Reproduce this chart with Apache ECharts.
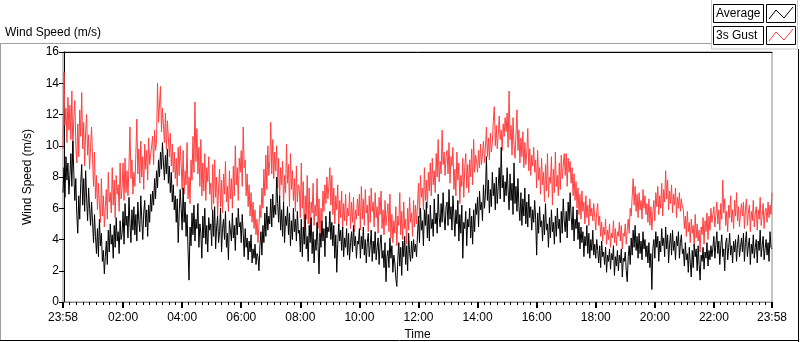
<!DOCTYPE html>
<html>
<head>
    <meta charset="utf-8" />
    <title>Wind Speed</title>
    <script src="https://cdn.jsdelivr.net/npm/echarts@6.0.0/dist/echarts.min.js"></script>
    <style>
        html, body { margin: 0; padding: 0; background: #fff; }
        #chart { width: 800px; height: 342px; }
    </style>
</head>
<body>
<div id="chart"></div>
<script type="text/javascript">
    // first sample at 23:58 of the day before (minutes from 00:00), one sample every 2 min,
    // one row per hour of the record
    var startMinute = -2;
    var stepMinute = 2;

    // Average wind speed (m/s)
    var averageByHour = [
        [7.0, 8.6, 6.7, 9.3, 7.8, 8.9, 6.9, 8.1, 9.5, 7.4, 10.3, 8.2, 6.5, 7.9, 5.6, 4.4, 6.8, 5.3, 7.6, 8.8, 6.2, 7.9, 5.8, 8.4, 6.6, 5.2, 7.3, 6.0, 4.9, 6.4],
        [5.1, 3.8, 5.6, 4.2, 3.1, 4.7, 2.9, 5.3, 3.6, 4.4, 2.6, 3.3, 1.8, 2.9, 3.9, 2.4, 4.6, 3.2, 5.0, 3.7, 4.3, 2.8, 4.9, 3.5, 5.4, 3.9, 4.5, 3.1, 5.2, 4.0],
        [4.4, 5.8, 3.7, 6.3, 4.9, 5.5, 4.1, 6.7, 5.0, 3.8, 5.9, 4.6, 6.1, 4.3, 5.6, 3.9, 6.4, 5.2, 4.5, 6.8, 5.3, 4.0, 5.7, 6.5, 4.8, 5.9, 4.2, 6.2, 5.1, 6.9],
        [5.8, 7.1, 6.2, 7.9, 6.6, 8.4, 7.3, 9.1, 8.0, 9.6, 8.5, 10.2, 8.9, 7.8, 9.4, 8.2, 9.8, 7.6, 8.7, 7.0, 8.3, 6.4, 7.5, 5.9, 6.8, 5.1, 6.6, 3.8, 5.7, 7.2],
        [6.0, 4.6, 7.3, 5.1, 6.4, 4.2, 5.6, 3.3, 1.4, 4.8, 3.6, 5.7, 4.3, 6.2, 3.9, 5.3, 4.7, 6.3, 3.5, 5.0, 4.4, 2.8, 5.5, 4.1, 6.0, 3.7, 4.9, 3.2, 5.4, 4.6],
        [5.0, 3.6, 5.9, 4.2, 6.1, 3.4, 4.8, 5.5, 3.8, 4.5, 6.0, 3.2, 4.7, 5.3, 4.0, 5.8, 3.5, 4.4, 2.7, 5.2, 4.6, 3.9, 5.7, 4.1, 4.9, 3.3, 5.4, 4.3, 6.0, 4.8],
        [5.1, 3.8, 5.6, 4.4, 2.9, 4.7, 3.5, 4.1, 2.7, 3.9, 3.2, 4.3, 2.5, 3.4, 2.8, 3.7, 2.4, 3.1, 2.9, 2.0, 3.6, 4.5, 3.0, 4.9, 3.8, 5.7, 4.2, 6.1, 4.6, 5.5],
        [5.0, 6.6, 4.8, 6.9, 5.4, 6.2, 5.6, 8.0, 6.3, 5.1, 6.8, 4.6, 5.9, 4.2, 6.4, 3.8, 5.5, 4.9, 6.1, 4.3, 5.7, 3.6, 5.2, 4.0, 6.0, 4.5, 5.3, 3.9, 5.8, 4.4],
        [4.6, 3.2, 5.3, 2.9, 4.8, 3.7, 5.6, 3.4, 4.2, 2.6, 4.9, 3.8, 5.4, 3.1, 4.5, 2.5, 4.0, 3.3, 5.1, 3.6, 1.8, 4.4, 3.5, 5.2, 3.9, 4.7, 2.9, 5.5, 4.1, 4.8],
        [4.5, 5.8, 4.0, 5.1, 3.6, 4.9, 2.8, 4.3, 1.9, 3.7, 5.0, 3.9, 4.6, 3.3, 4.8, 2.9, 4.1, 3.5, 4.7, 3.0, 4.4, 2.7, 3.8, 4.5, 3.2, 4.9, 3.6, 4.2, 2.8, 3.9],
        [3.7, 4.7, 2.8, 4.2, 3.4, 4.8, 3.0, 4.0, 2.5, 3.8, 4.4, 2.9, 3.6, 4.6, 2.6, 3.9, 3.1, 4.5, 2.7, 3.5, 4.1, 2.4, 3.7, 4.3, 2.8, 3.3, 2.2, 3.8, 1.3, 2.9],
        [3.3, 2.2, 4.1, 2.8, 3.6, 1.9, 3.0, 2.5, 1.5, 1.0, 2.7, 3.8, 2.3, 3.5, 1.7, 3.9, 2.9, 4.2, 2.4, 3.6, 2.0, 4.4, 3.1, 2.6, 3.9, 2.8, 4.0, 3.2, 3.7, 2.9],
        [4.3, 5.5, 3.8, 6.0, 4.6, 5.2, 3.6, 5.9, 4.9, 6.4, 4.1, 5.6, 3.9, 6.2, 4.7, 5.3, 4.2, 6.6, 5.0, 5.7, 4.4, 6.9, 5.4, 4.8, 6.3, 5.1, 7.0, 5.5, 4.6, 6.1],
        [6.4, 4.9, 7.2, 5.3, 6.1, 4.6, 6.8, 5.5, 4.2, 5.9, 5.0, 6.5, 3.9, 5.6, 4.4, 6.2, 2.8, 5.1, 4.7, 5.8, 3.6, 5.3, 4.8, 6.0, 4.1, 5.5, 3.7, 5.9, 4.5, 6.3],
        [5.6, 6.7, 4.8, 7.1, 5.9, 6.4, 5.2, 7.5, 6.0, 6.9, 9.3, 6.5, 7.8, 5.7, 7.2, 6.1, 8.3, 6.8, 7.6, 5.9, 8.0, 6.3, 7.4, 8.6, 6.6, 9.9, 7.3, 8.1, 6.4, 7.7],
        [6.8, 8.6, 7.1, 5.9, 8.2, 6.5, 7.6, 5.6, 8.9, 6.3, 7.4, 5.8, 7.9, 6.1, 5.2, 7.0, 4.9, 6.6, 5.5, 7.3, 5.0, 6.4, 4.8, 6.9, 5.4, 6.1, 4.6, 5.9, 5.1, 6.5],
        [5.3, 3.0, 5.7, 4.4, 6.1, 4.8, 5.2, 3.9, 5.6, 4.3, 6.3, 4.6, 5.0, 3.5, 5.4, 4.1, 5.9, 4.5, 5.1, 3.7, 5.5, 4.2, 6.0, 4.7, 5.3, 3.8, 5.8, 4.4, 6.6, 5.2],
        [4.5, 5.8, 4.1, 6.4, 5.2, 7.0, 5.5, 4.6, 6.1, 3.9, 5.3, 4.7, 5.9, 4.0, 5.1, 3.4, 4.8, 3.8, 4.5, 2.9, 4.2, 3.6, 4.9, 3.1, 4.4, 2.8, 4.0, 3.3, 4.6, 3.0],
        [3.7, 2.8, 4.0, 3.3, 2.5, 3.6, 2.2, 3.9, 2.9, 3.2, 2.4, 3.5, 1.9, 3.0, 2.6, 3.4, 2.1, 3.1, 2.7, 3.6, 1.7, 2.9, 2.3, 3.3, 2.0, 3.0, 2.5, 3.4, 1.6, 2.8],
        [2.6, 3.2, 2.0, 1.3, 2.9, 3.6, 2.4, 4.1, 3.0, 4.6, 3.5, 4.9, 3.3, 4.2, 2.8, 4.4, 3.1, 3.9, 2.7, 4.5, 3.4, 4.0, 2.9, 3.6, 2.5, 3.8, 2.2, 3.1, 0.8, 3.4],
        [4.0, 2.8, 4.5, 3.5, 4.2, 2.6, 3.9, 3.2, 4.7, 3.6, 4.1, 2.9, 4.8, 3.4, 4.3, 2.5, 3.7, 4.4, 3.0, 4.6, 3.3, 3.9, 2.7, 4.2, 3.6, 4.5, 2.8, 3.8, 4.3, 3.1],
        [3.4, 2.3, 3.8, 2.7, 3.1, 1.9, 3.5, 2.5, 1.6, 3.3, 2.2, 3.7, 2.9, 3.4, 2.0, 3.6, 2.4, 1.4, 3.0, 2.6, 3.5, 2.1, 3.2, 2.8, 3.8, 2.3, 3.3, 2.7, 3.6, 2.9],
        [3.5, 4.2, 2.8, 3.7, 4.5, 3.1, 3.9, 2.4, 3.6, 4.3, 2.9, 3.4, 2.0, 3.8, 4.1, 2.7, 3.5, 4.4, 3.0, 3.6, 2.5, 3.9, 3.2, 4.0, 2.6, 3.7, 4.3, 2.9, 3.5, 4.1],
        [3.2, 4.4, 2.6, 3.8, 4.5, 2.9, 3.6, 4.1, 2.4, 3.7, 3.1, 4.3, 2.8, 3.5, 4.0, 2.5, 3.9, 3.3, 4.6, 2.9, 3.6, 4.2, 2.7, 3.4, 4.0, 3.0, 3.8, 2.6, 4.5, 3.5, 3.4]
    ];

    // 3s gust (m/s)
    var gustByHour = [
        [9.8, 14.7, 11.3, 12.4, 10.2, 13.1, 11.0, 12.6, 10.4, 13.5, 9.6, 11.8, 12.9, 10.1, 8.9, 11.4, 9.3, 12.3, 10.6, 13.4, 9.8, 11.5, 8.7, 10.9, 12.0, 9.4, 10.7, 8.5, 9.9, 11.2],
        [9.2, 7.4, 9.6, 6.6, 8.1, 5.9, 7.6, 6.3, 5.1, 7.9, 5.5, 6.8, 4.8, 6.1, 7.2, 5.3, 8.3, 6.4, 7.0, 5.7, 8.6, 6.2, 7.8, 5.4, 8.1, 6.9, 7.5, 5.8, 8.9, 6.6],
        [7.3, 8.9, 6.5, 9.2, 7.0, 8.4, 6.8, 8.7, 11.2, 7.9, 9.1, 6.9, 8.3, 7.4, 9.5, 11.7, 8.2, 9.8, 7.6, 10.3, 8.0, 9.3, 7.2, 10.1, 8.5, 9.7, 7.8, 10.5, 8.8, 9.4],
        [9.4, 10.6, 8.8, 11.0, 9.7, 10.3, 14.0, 11.5, 12.6, 13.8, 10.9, 12.4, 11.3, 10.2, 12.1, 9.8, 11.6, 10.5, 9.3, 10.8, 8.7, 10.1, 8.3, 9.6, 7.9, 9.2, 7.4, 9.9, 8.1, 10.0],
        [8.8, 7.2, 9.7, 6.9, 8.4, 7.5, 10.2, 6.6, 8.0, 6.3, 9.1, 7.8, 10.6, 8.3, 12.8, 9.0, 11.1, 8.2, 9.9, 7.4, 10.4, 6.8, 8.9, 7.1, 9.5, 6.5, 8.6, 7.7, 9.3, 6.9],
        [7.6, 5.9, 8.8, 6.3, 9.1, 6.7, 8.0, 5.5, 7.3, 8.5, 6.1, 7.8, 5.7, 8.2, 6.9, 9.0, 6.4, 7.4, 5.8, 8.4, 6.6, 7.9, 6.0, 8.7, 6.8, 10.0, 7.5, 8.6, 6.5, 9.2],
        [8.3, 9.7, 7.4, 11.2, 8.6, 9.1, 6.8, 8.2, 6.1, 7.5, 5.5, 7.0, 5.1, 6.4, 4.7, 5.9, 4.3, 5.3, 3.8, 4.9, 6.2, 5.4, 7.3, 6.0, 8.5, 6.8, 9.4, 7.2, 10.0, 8.1],
        [9.0, 11.5, 8.2, 10.4, 7.9, 9.6, 8.4, 10.0, 7.3, 9.2, 6.7, 8.6, 7.5, 9.0, 6.3, 8.1, 7.0, 10.1, 7.6, 8.8, 6.1, 9.5, 7.2, 8.4, 6.5, 7.9, 5.8, 8.7, 6.4, 7.5],
        [7.2, 5.4, 8.9, 6.0, 7.7, 4.6, 6.8, 5.3, 8.1, 5.0, 7.3, 4.2, 6.4, 5.7, 7.6, 4.9, 6.2, 5.5, 7.9, 4.7, 6.6, 3.9, 6.0, 5.2, 7.1, 5.8, 7.5, 6.3, 8.0, 6.6],
        [7.4, 8.6, 6.2, 8.1, 5.6, 7.3, 5.0, 6.8, 5.9, 7.5, 4.8, 6.5, 5.4, 7.1, 4.6, 6.3, 5.2, 6.9, 4.9, 6.0, 5.5, 7.0, 4.7, 6.4, 5.1, 6.7, 4.5, 5.9, 5.3, 6.6],
        [5.5, 6.9, 4.6, 7.4, 5.3, 6.6, 4.9, 7.2, 5.7, 6.2, 4.5, 6.8, 5.1, 7.3, 5.8, 6.4, 4.8, 7.0, 5.4, 6.1, 4.4, 6.7, 5.6, 7.1, 4.7, 5.9, 4.3, 6.5, 4.9, 5.6],
        [6.3, 4.5, 6.9, 4.1, 5.6, 3.8, 5.2, 4.4, 6.1, 3.6, 5.5, 4.9, 7.0, 4.3, 5.8, 4.0, 6.4, 4.7, 5.3, 3.7, 6.0, 4.6, 6.7, 5.1, 5.7, 4.2, 6.5, 4.8, 6.2, 5.0],
        [6.2, 7.6, 5.4, 8.1, 6.7, 7.3, 5.9, 8.6, 6.5, 7.8, 6.0, 8.3, 7.1, 8.9, 6.8, 9.2, 7.5, 8.4, 7.0, 9.5, 8.0, 10.4, 7.7, 9.0, 8.2, 11.0, 8.8, 9.6, 8.1, 9.3],
        [9.7, 8.2, 10.2, 7.6, 9.3, 8.7, 9.9, 7.2, 8.5, 6.8, 9.6, 7.8, 8.9, 6.3, 8.1, 7.4, 9.2, 6.7, 8.6, 9.5, 7.3, 8.8, 7.0, 9.1, 8.0, 9.8, 7.5, 10.4, 8.3, 9.4],
        [9.0, 8.3, 9.7, 8.6, 10.1, 8.8, 9.5, 10.3, 8.9, 9.9, 11.2, 9.3, 10.5, 9.1, 10.8, 9.6, 10.2, 11.6, 12.5, 10.0, 11.3, 9.8, 10.7, 11.9, 10.4, 11.0, 9.7, 11.4, 10.6, 11.8],
        [10.9, 12.1, 9.9, 13.5, 10.4, 11.3, 9.4, 11.8, 10.1, 9.2, 10.7, 12.3, 9.7, 11.0, 8.9, 10.5, 9.3, 10.9, 8.6, 10.2, 8.8, 9.6, 11.1, 8.4, 9.8, 8.1, 9.4, 8.7, 9.9, 8.3],
        [9.1, 7.3, 9.7, 7.8, 8.6, 6.9, 9.2, 7.5, 8.3, 6.4, 8.8, 7.1, 9.5, 6.7, 8.0, 7.6, 9.3, 6.2, 8.5, 7.0, 9.6, 7.4, 8.1, 6.8, 8.9, 7.2, 9.4, 7.9, 8.7, 9.5],
        [8.1, 9.5, 7.4, 9.2, 8.3, 9.0, 7.6, 8.6, 6.8, 8.2, 6.5, 7.7, 6.0, 7.3, 5.6, 6.9, 5.3, 7.1, 5.8, 6.4, 5.0, 6.8, 5.4, 6.2, 4.9, 6.6, 5.5, 6.0, 5.2, 6.3],
        [5.4, 4.6, 5.8, 6.3, 4.9, 5.5, 4.2, 5.1, 3.9, 4.8, 4.3, 5.3, 3.7, 4.6, 4.0, 5.0, 3.5, 4.4, 4.1, 5.2, 3.8, 4.7, 3.6, 4.5, 4.2, 5.1, 3.9, 4.9, 3.4, 4.4],
        [4.2, 5.0, 3.7, 4.6, 5.3, 4.4, 6.0, 5.5, 6.7, 7.9, 6.2, 7.4, 5.8, 6.9, 5.4, 7.0, 5.9, 6.5, 5.3, 7.2, 6.0, 6.8, 5.6, 6.3, 5.1, 6.6, 4.9, 6.1, 4.6, 5.7],
        [6.5, 5.2, 7.0, 6.1, 7.4, 5.6, 6.8, 6.0, 7.6, 5.5, 7.2, 6.4, 8.4, 6.6, 7.8, 5.9, 7.1, 6.3, 7.5, 5.7, 6.9, 6.2, 7.3, 5.4, 6.7, 6.0, 7.0, 5.8, 6.6, 6.1],
        [5.9, 4.7, 5.5, 4.2, 5.8, 4.5, 5.1, 3.8, 5.3, 4.4, 4.9, 3.5, 5.6, 4.1, 5.0, 3.9, 4.6, 3.2, 4.8, 4.3, 5.4, 3.7, 5.2, 4.5, 5.7, 4.0, 5.5, 4.6, 6.0, 5.1],
        [5.2, 6.1, 4.8, 5.6, 6.4, 5.0, 5.9, 4.6, 6.3, 5.3, 7.8, 5.7, 6.6, 4.9, 5.8, 4.5, 6.2, 5.4, 6.8, 5.1, 5.9, 4.7, 6.5, 5.5, 7.0, 5.2, 6.1, 4.8, 5.7, 6.3],
        [5.5, 6.4, 4.7, 5.9, 6.6, 4.9, 5.7, 6.2, 4.5, 5.8, 5.2, 6.5, 4.8, 5.6, 6.1, 4.6, 5.9, 5.3, 6.7, 4.9, 5.5, 6.3, 4.7, 5.8, 6.0, 5.1, 6.4, 5.4, 6.2, 5.6, 7.0]
    ];

    // time axis: major ticks (minutes from 00:00) and their labels
    var timeTickValues = [-2, 120, 240, 360, 480, 600, 720, 840, 960, 1080, 1200, 1320, 1438];
    var timeTickLabels = ['23:58', '02:00', '04:00', '06:00', '08:00', '10:00', '12:00',
        '14:00', '16:00', '18:00', '20:00', '22:00', '23:58'];

    var speedMin = 0;
    var speedMax = 16;
    var speedStep = 2;

    var seriesNames = ['Average', '3s Gust'];
    var seriesColors = ['#000000', '#ff4040'];

    var fontName = 'Liberation Sans';

    // [minute, value] pairs, each hour row starting on its own hour
    function toPairs(rows) {
        var out = [];
        for (var h = 0; h < rows.length; h++) {
            for (var i = 0; i < rows[h].length; i++) {
                out.push([startMinute + h * 60 + i * stepMinute, rows[h][i]]);
            }
        }
        return out;
    }

    // 8 small ticks between each pair of labelled ticks
    var minorTicks = [];
    for (var k = 0; k < timeTickValues.length - 1; k++) {
        var a = timeTickValues[k], b = timeTickValues[k + 1];
        for (var m = 1; m < 9; m++) {
            minorTicks.push(a + (b - a) * m / 9);
        }
    }

    function legendItem(y, name, color) {
        return {
            type: 'group',
            children: [
                { type: 'rect', shape: { x: 713.5, y: y + 0.5, width: 50, height: 18 },
                  style: { fill: '#fff', stroke: '#000', lineWidth: 1 } },
                { type: 'text', x: 716, y: y + 10,
                  style: { text: name, font: '12px ' + fontName, fill: '#000', textVerticalAlign: 'middle' } },
                { type: 'rect', shape: { x: 766.5, y: y + 0.5, width: 29, height: 18 },
                  style: { fill: '#fff', stroke: '#000', lineWidth: 1 } },
                { type: 'polyline',
                  shape: { points: [[769, y + 15], [776, y + 6], [784, y + 14], [793, y + 3]] },
                  style: { stroke: color, fill: null, lineWidth: 1 } }
            ]
        };
    }

    var chart = echarts.init(document.getElementById('chart'), null, { renderer: 'canvas' });

    var option = {
        animation: false,
        backgroundColor: '#fff',
        textStyle: { fontFamily: fontName },
        title: {
            text: 'Wind Speed (m/s)',
            left: 0,
            top: 22,
            textStyle: { fontSize: 12, fontWeight: 'normal', color: '#000', fontFamily: fontName }
        },
        grid: {
            left: 63,
            top: 52,
            right: 28,
            bottom: 40,
            outerBoundsMode: 'none',
            containLabel: false,
            show: true,
            borderColor: '#8c8c8c',
            borderWidth: 1
        },
        xAxis: [
            {
                type: 'value',
                min: timeTickValues[0],
                max: timeTickValues[timeTickValues.length - 1],
                position: 'bottom',
                name: 'Time',
                nameLocation: 'middle',
                nameGap: 26,
                nameTextStyle: { fontSize: 12, color: '#000' },
                axisLine: { show: true, lineStyle: { color: '#8c8c8c', width: 1 } },
                axisTick: { show: true, length: 6, customValues: timeTickValues,
                    lineStyle: { color: '#000', width: 2 } },
                axisLabel: {
                    customValues: timeTickValues,
                    showMinLabel: true,
                    showMaxLabel: true,
                    margin: 10,
                    fontSize: 12,
                    color: '#000',
                    formatter: function (v) {
                        var idx = timeTickValues.indexOf(v);
                        return idx >= 0 ? timeTickLabels[idx] : '';
                    }
                },
                splitLine: { show: false }
            },
            {
                type: 'value',
                min: timeTickValues[0],
                max: timeTickValues[timeTickValues.length - 1],
                position: 'bottom',
                offset: 0,
                axisLine: { show: false },
                axisTick: { show: true, length: 3, customValues: minorTicks,
                    lineStyle: { color: '#000', width: 1 } },
                axisLabel: { show: false },
                splitLine: { show: false }
            },
            {
                type: 'value',
                min: timeTickValues[0],
                max: timeTickValues[timeTickValues.length - 1],
                position: 'top',
                axisLine: { show: true, lineStyle: { color: '#000', width: 1 } },
                axisTick: { show: false },
                axisLabel: { show: false },
                splitLine: { show: false }
            }
        ],
        yAxis: {
            type: 'value',
            min: speedMin,
            max: speedMax,
            interval: speedStep,
            name: 'Wind Speed (m/s)',
            nameLocation: 'middle',
            nameGap: 29,
            nameTextStyle: { fontSize: 12, color: '#000' },
            axisLine: { show: true, lineStyle: { color: '#000', width: 1 } },
            axisTick: { show: true, length: 5, lineStyle: { color: '#000' } },
            axisLabel: { fontSize: 12, color: '#000', margin: 4 },
            splitLine: { show: false }
        },
        series: [
            {
                name: seriesNames[1],
                type: 'line',
                xAxisIndex: 0,
                data: toPairs(gustByHour),
                showSymbol: false,
                symbol: 'none',
                lineStyle: { color: seriesColors[1], width: 1 },
                z: 2
            },
            {
                name: seriesNames[0],
                type: 'line',
                xAxisIndex: 0,
                data: toPairs(averageByHour),
                showSymbol: false,
                symbol: 'none',
                lineStyle: { color: seriesColors[0], width: 1 },
                z: 3
            }
        ],
        graphic: [
            // panel frame: light top/left, dark bottom/right
            { type: 'line', shape: { x1: 0.5, y1: 43, x2: 0.5, y2: 341 }, style: { stroke: '#a0a0a0', lineWidth: 1 } },
            { type: 'line', shape: { x1: 0, y1: 43.5, x2: 712, y2: 43.5 }, style: { stroke: '#a0a0a0', lineWidth: 1 } },
            { type: 'line', shape: { x1: 798.5, y1: 49, x2: 798.5, y2: 342 }, style: { stroke: '#000', lineWidth: 1 } },
            { type: 'line', shape: { x1: 0, y1: 340.5, x2: 799, y2: 340.5 }, style: { stroke: '#000', lineWidth: 1 } },
            // legend panel
            { type: 'rect', shape: { x: 711.5, y: -1, width: 86, height: 50 },
              style: { fill: '#fff', stroke: '#c8c8c8', lineWidth: 1 } },
            legendItem(4, seriesNames[0], seriesColors[0]),
            legendItem(26, seriesNames[1], seriesColors[1])
        ]
    };

    chart.setOption(option);
</script>
</body>
</html>
